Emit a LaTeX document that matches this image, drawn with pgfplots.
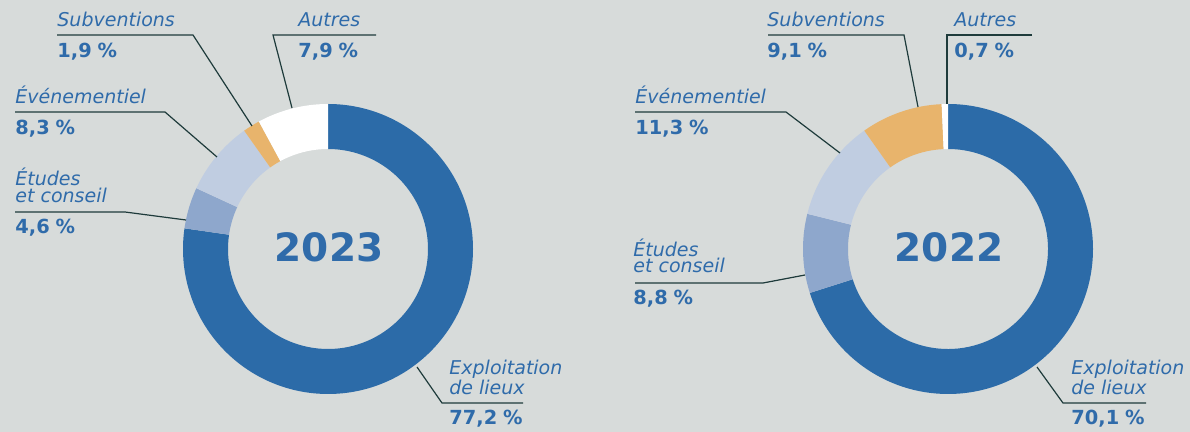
\documentclass[border=0pt]{standalone}
\usepackage{fontspec}
\setmainfont{DejaVu Sans}
\usepackage{pgfplots}
\pgfplotsset{compat=1.18}

\definecolor{bg}{HTML}{D7DBDA}
\definecolor{cExp}{HTML}{2C6BA8}
\definecolor{cEtu}{HTML}{8EA7CC}
\definecolor{cEve}{HTML}{C0CDE1}
\definecolor{cSub}{HTML}{E8B46C}
\definecolor{cAut}{HTML}{FFFFFF}
\definecolor{txt}{HTML}{2F6BAA}
\definecolor{ln}{HTML}{1E3B3B}

% donut: #1 name, #2 cx, #3 cy (pixels), #4 total, #5 value/colour list
\newcommand\donut[5]{%
  \coordinate (#1) at (axis cs:#2,#3);
  \xdef\cum{0}%
  \foreach \v/\c in {#5}{%
    \pgfmathsetmacro\aA{90-(\cum/#4)*360}%
    \pgfmathsetmacro\aB{90-((\cum+\v)/#4)*360}%
    \edef\tmp{\noexpand\fill[\c] ([shift={(\aA:72.5pt)}]#1)
      arc[start angle=\aA, end angle=\aB, radius=72.5pt]
      -- ([shift={(\aB:50pt)}]#1)
      arc[start angle=\aB, end angle=\aA, radius=50pt] -- cycle;}%
    \tmp
    \pgfmathsetmacro\nc{\cum+\v}\xdef\cum{\nc}%
  }%
}
\newcommand\pct[1]{#1\hspace{0.3em}\%}

\tikzset{
  nm/.style={text=txt, anchor=base west, inner sep=0pt,
    font=\fontsize{9.5}{10}\selectfont\itshape},
  pc/.style={text=txt, anchor=base west, inner sep=0pt,
    font=\fontsize{9.7}{10}\selectfont\bfseries},
  yr/.style={text=txt, inner sep=0pt,
    font=\fontsize{19.5}{20}\selectfont\bfseries},
  ld/.style={draw=ln, line width=0.6pt},
}

\begin{document}
\begin{tikzpicture}
\begin{axis}[
    width=595pt, height=216pt,
    scale only axis,
    xmin=0, xmax=1190, ymin=0, ymax=432,
    y dir=reverse,
    hide axis,
    clip=false,
]
\fill[bg] (axis cs:0,0) rectangle (axis cs:1190,432);

% 2023: Exploitation, Etudes, Evenementiel, Subventions, Autres
\donut{c23}{328}{249}{99.9}{77.2/cExp, 4.6/cEtu, 8.3/cEve, 1.9/cSub, 7.9/cAut}
% 2022
\donut{c22}{948}{249}{100}{70.1/cExp, 8.8/cEtu, 11.3/cEve, 9.1/cSub, 0.7/cAut}

\node[yr] at (axis cs:329,247) {2023};
\node[yr] at (axis cs:949,247) {2022};

% ---- 2023 labels
\draw[ld] (axis cs:57,35) -- (axis cs:193,35) -- (axis cs:252,126);
\node[nm] at (axis cs:57,27) {Subventions};
\node[pc] at (axis cs:57,58) {\pct{1,9}};

\draw[ld] (axis cs:376,35) -- (axis cs:273,35) -- (axis cs:292,108);
\node[nm] at (axis cs:298,27) {Autres};
\node[pc] at (axis cs:298,58) {\pct{7,9}};

\draw[ld] (axis cs:15,112) -- (axis cs:165,112) -- (axis cs:217,157);
\node[nm] at (axis cs:15,104) {Événementiel};
\node[pc] at (axis cs:15,135) {\pct{8,3}};

\draw[ld] (axis cs:15,212) -- (axis cs:125,212) -- (axis cs:186,220);
\node[nm] at (axis cs:15,186) {Études};
\node[nm] at (axis cs:15,203) {et conseil};
\node[pc] at (axis cs:15,234) {\pct{4,6}};

\draw[ld] (axis cs:417,367) -- (axis cs:442,403) -- (axis cs:523,403);
\node[nm] at (axis cs:449,375) {Exploitation};
\node[nm] at (axis cs:449,395) {de lieux};
\node[pc] at (axis cs:449,425) {\pct{77,2}};

% ---- 2022 labels
\draw[ld] (axis cs:768,35) -- (axis cs:904,35) -- (axis cs:918,107);
\node[nm] at (axis cs:767,27) {Subventions};
\node[pc] at (axis cs:767,58) {\pct{9,1}};

\draw[ld] (axis cs:1032,35) -- (axis cs:947,35) -- (axis cs:947,104);
\node[nm] at (axis cs:954,27) {Autres};
\node[pc] at (axis cs:954,58) {\pct{0,7}};

\draw[ld] (axis cs:635,112) -- (axis cs:786,112) -- (axis cs:840,153);
\node[nm] at (axis cs:635,104) {Événementiel};
\node[pc] at (axis cs:635,135) {\pct{11,3}};

\draw[ld] (axis cs:635,283) -- (axis cs:763,283) -- (axis cs:805,275);
\node[nm] at (axis cs:633,257) {Études};
\node[nm] at (axis cs:633,273) {et conseil};
\node[pc] at (axis cs:633,305) {\pct{8,8}};

\draw[ld] (axis cs:1037,367) -- (axis cs:1063,403) -- (axis cs:1146,403);
\node[nm] at (axis cs:1071,375) {Exploitation};
\node[nm] at (axis cs:1071,395) {de lieux};
\node[pc] at (axis cs:1071,425) {\pct{70,1}};
\end{axis}
\pgfresetboundingbox
\useasboundingbox (current axis.south west) rectangle (current axis.north east);
\end{tikzpicture}
\end{document}
